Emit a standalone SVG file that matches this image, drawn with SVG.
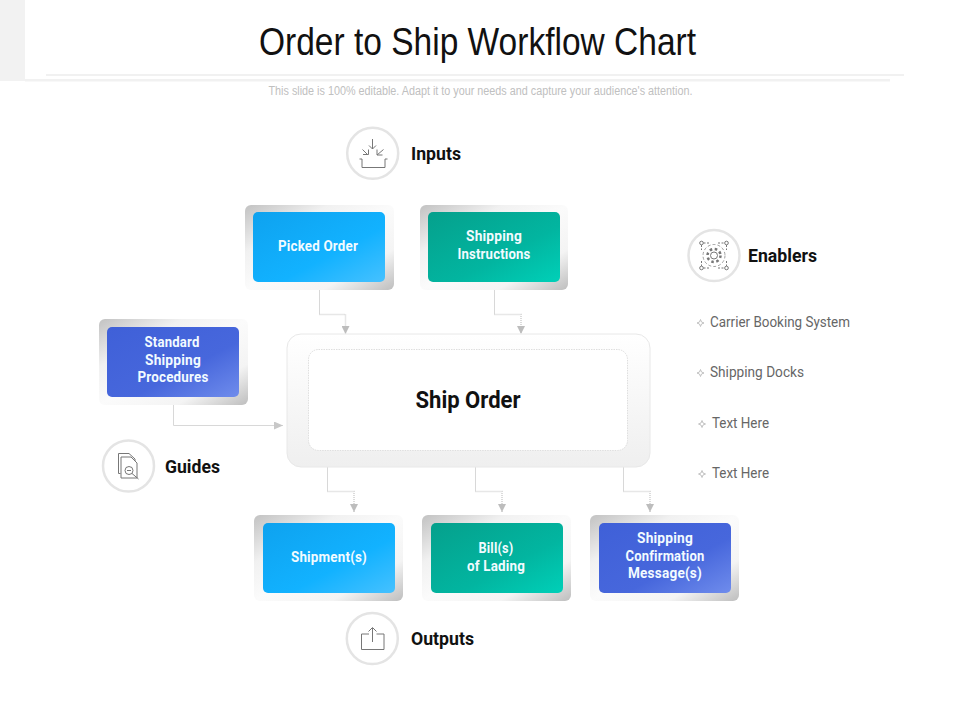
<svg xmlns="http://www.w3.org/2000/svg" width="960" height="720" viewBox="0 0 960 720">
<style>
.t{font-family:"Roboto","Liberation Sans",sans-serif;font-weight:700}
.n{fill:#f2fbff;font-size:14px;text-anchor:middle;letter-spacing:.2px}
.h{fill:#111;font-size:19px}
.b{font-family:"Roboto","Liberation Sans",sans-serif;fill:#666;font-size:14px}
.c{fill:none;stroke:#d8d8d8;stroke-width:1}
.d{fill:none;stroke:#d0d0d0;stroke-width:1.500;stroke-dasharray:1 1}
.i{fill:none;stroke:#777;stroke-width:1}
.ci{fill:#fff;stroke:#e4e4e4;stroke-width:2.500}
</style>
<defs>
<linearGradient id="fr" x1="0" y1="0" x2="1" y2="1"><stop offset="0" stop-color="#c2c2c2"/><stop offset=".28" stop-color="#f1f1f1"/><stop offset=".5" stop-color="#fbfbfb"/><stop offset=".76" stop-color="#f4f4f4"/><stop offset="1" stop-color="#bebebe"/></linearGradient>
<linearGradient id="bl" x1="0" y1="0" x2="1" y2="1"><stop offset="0" stop-color="#0ea2ef"/><stop offset=".6" stop-color="#12b2ff"/><stop offset="1" stop-color="#46c1ff"/></linearGradient>
<linearGradient id="gr" x1="0" y1="0" x2="1" y2="1"><stop offset="0" stop-color="#05a08c"/><stop offset=".6" stop-color="#02b5a0"/><stop offset="1" stop-color="#00d0b8"/></linearGradient>
<linearGradient id="in" x1="0" y1="0" x2="1" y2="1"><stop offset="0" stop-color="#3f60d8"/><stop offset=".6" stop-color="#4767dc"/><stop offset="1" stop-color="#6f8cec"/></linearGradient>
<linearGradient id="mn" x1="0" y1="0" x2="0" y2="1"><stop offset="0" stop-color="#fff"/><stop offset="1" stop-color="#efefef"/></linearGradient>
<marker id="a" viewBox="0 0 8 8" refX="8" refY="4" markerWidth="8" markerHeight="8" orient="auto" markerUnits="userSpaceOnUse"><path d="M0 0L8 4L0 8Z" fill="#bdbdbd"/></marker>
<marker id="ar" viewBox="0 0 9 8" refX="9" refY="4" markerWidth="9" markerHeight="8" orient="auto" markerUnits="userSpaceOnUse"><path d="M0 0L9 4L0 8Z" fill="#c8c8c8"/></marker>
<symbol id="dm" viewBox="0 0 8 8" overflow="visible"><path d="M4 .5L5 3L7.500 4L5 5L4 7.500L3 5L.5 4L3 3Z" fill="none" stroke="#bbb" stroke-width=".9"/></symbol>
</defs>

<g id="header">
<rect x="0" y="0" width="25" height="81" fill="#f2f2f2"/>
<rect x="46" y="74" width="858" height="2" fill="#f1f1f1"/>
<rect x="25" y="79" width="865" height="2.500" fill="#f1f1f1"/>
<text x="477.500" y="55" text-anchor="middle" font-family="'Liberation Sans',sans-serif" font-size="38" fill="#111" textLength="437" lengthAdjust="spacingAndGlyphs">Order to Ship Workflow Chart</text>
<text x="480.500" y="95" text-anchor="middle" font-family="'Liberation Sans',sans-serif" font-size="12" fill="#c0c0c0" textLength="424" lengthAdjust="spacingAndGlyphs">This slide is 100% editable. Adapt it to your needs and capture your audience's attention.</text>
</g>

<g id="connectors">
<path class="c" d="M319.500 290V314.500"/><path class="d" d="M319.500 314.500H345.500V334" marker-end="url(#a)"/>
<path class="c" d="M494.500 290V314.500"/><path class="d" d="M494.500 314.500H521V334" marker-end="url(#a)"/>
<path class="c" d="M173.500 405V425.500H283" marker-end="url(#ar)"/>
<path class="c" d="M327.500 467V491.500"/><path class="d" d="M327.500 491.500H354V512" marker-end="url(#a)"/>
<path class="c" d="M475.500 467V491.500"/><path class="d" d="M475.500 491.500H502V512" marker-end="url(#a)"/>
<path class="c" d="M623.500 467V491.500"/><path class="d" d="M623.500 491.500H650V512" marker-end="url(#a)"/>
</g>

<g id="ship-order">
<rect x="287" y="334" width="363" height="133" rx="14" fill="url(#mn)" stroke="#e8e8e8"/>
<rect x="308.500" y="349.500" width="319" height="101" rx="10" fill="#fff" stroke="#dedede" stroke-dasharray="1.500 1"/>
<text class="t" x="468" y="408" text-anchor="middle" font-size="23" fill="#111" textLength="105" lengthAdjust="spacingAndGlyphs">Ship Order</text>
</g>

<g id="picked-order">
<rect x="245" y="205" width="149" height="85" rx="6" fill="url(#fr)"/>
<rect x="253" y="212" width="132" height="70" rx="5" fill="url(#bl)"/>
<text class="t n" x="318" y="251" textLength="80" lengthAdjust="spacingAndGlyphs">Picked Order</text>
</g>
<g id="shipping-instructions">
<rect x="420" y="205" width="148" height="85" rx="6" fill="url(#fr)"/>
<rect x="428" y="212" width="132" height="70" rx="5" fill="url(#gr)"/>
<text class="t n" x="494" y="241" textLength="56" lengthAdjust="spacingAndGlyphs">Shipping</text>
<text class="t n" x="494" y="259" textLength="73" lengthAdjust="spacingAndGlyphs">Instructions</text>
</g>
<g id="standard-shipping-procedures">
<rect x="99" y="319" width="149" height="86" rx="6" fill="url(#fr)"/>
<rect x="107" y="327" width="132" height="70" rx="5" fill="url(#in)"/>
<text class="t n" x="172" y="347" textLength="55" lengthAdjust="spacingAndGlyphs">Standard</text>
<text class="t n" x="173" y="365" textLength="56" lengthAdjust="spacingAndGlyphs">Shipping</text>
<text class="t n" x="173" y="382" textLength="71" lengthAdjust="spacingAndGlyphs">Procedures</text>
</g>
<g id="shipments">
<rect x="254" y="515" width="149" height="86" rx="6" fill="url(#fr)"/>
<rect x="263" y="523" width="132" height="70" rx="5" fill="url(#bl)"/>
<text class="t n" x="329" y="562" textLength="76" lengthAdjust="spacingAndGlyphs">Shipment(s)</text>
</g>
<g id="bills-of-lading">
<rect x="422" y="515" width="149" height="86" rx="6" fill="url(#fr)"/>
<rect x="431" y="523" width="132" height="70" rx="5" fill="url(#gr)"/>
<text class="t n" x="496" y="553" textLength="35" lengthAdjust="spacingAndGlyphs">Bill(s)</text>
<text class="t n" x="496" y="571" textLength="58" lengthAdjust="spacingAndGlyphs">of Lading</text>
</g>
<g id="shipping-confirmation">
<rect x="590" y="515" width="149" height="86" rx="6" fill="url(#fr)"/>
<rect x="599" y="523" width="132" height="70" rx="5" fill="url(#in)"/>
<text class="t n" x="665" y="543" textLength="56" lengthAdjust="spacingAndGlyphs">Shipping</text>
<text class="t n" x="665" y="561" textLength="79" lengthAdjust="spacingAndGlyphs">Confirmation</text>
<text class="t n" x="665" y="578" textLength="74" lengthAdjust="spacingAndGlyphs">Message(s)</text>
</g>

<g id="inputs">
<circle class="ci" cx="372.700" cy="153.300" r="25.500"/>
<path class="i" d="M359.500 159H362V167.500H385V159H387.500"/>
<path class="i" d="M372.500 139V149M369 145.500L372.500 149L376 145.500M362.500 149.500L368 155M363 154.500H368.500V149.500M383.500 149.500L377 155M377 149.500V155H382.500"/>
<text class="t h" x="411" y="160" textLength="50" lengthAdjust="spacingAndGlyphs">Inputs</text>
</g>

<g id="enablers">
<circle class="ci" cx="714" cy="255.500" r="25.500"/>
<circle class="i" cx="714" cy="255.500" r="3.500"/>
<circle cx="714" cy="255.500" r="6.500" fill="none" stroke="#777" stroke-width="2.500" stroke-dasharray="2.500 2.600"/>
<circle cx="714" cy="255.500" r="11" fill="none" stroke="#888" stroke-width=".8" stroke-dasharray="3 2"/>
<circle class="i" cx="701.500" cy="243" r="1.800"/><circle class="i" cx="726.500" cy="243" r="1.800"/><circle class="i" cx="701.500" cy="268" r="1.800"/><circle class="i" cx="726.500" cy="268" r="1.800"/>
<path class="i" stroke-dasharray="2 1.500" d="M703.500 243H710M718 243H724.500M703.500 268H710M718 268H724.500M701.500 245V250M726.500 245V250M701.500 261V266M726.500 261V266"/>
<text class="t h" x="748" y="262" textLength="69" lengthAdjust="spacingAndGlyphs">Enablers</text>
</g>

<g id="enabler-list">
<use href="#dm" x="696.500" y="319" width="8" height="8"/>
<text class="b" x="710" y="327" textLength="140" lengthAdjust="spacingAndGlyphs">Carrier Booking System</text>
<use href="#dm" x="696.500" y="369" width="8" height="8"/>
<text class="b" x="710" y="377" textLength="94" lengthAdjust="spacingAndGlyphs">Shipping Docks</text>
<use href="#dm" x="698" y="420" width="8" height="8"/>
<text class="b" x="712" y="428" textLength="57" lengthAdjust="spacingAndGlyphs">Text Here</text>
<use href="#dm" x="698" y="470" width="8" height="8"/>
<text class="b" x="712" y="478" textLength="57" lengthAdjust="spacingAndGlyphs">Text Here</text>
</g>

<g id="guides">
<circle class="ci" cx="128.500" cy="466" r="25.500"/>
<path class="i" d="M120.500 473.500H118.500V453.500H129L135 459V461M121 457H131L137 463V478H121Z"/>
<circle class="i" cx="129" cy="470.500" r="4"/><path class="i" d="M127 470.500H131M132 473.500L138.500 479"/>
<text class="t h" x="165" y="473" textLength="55" lengthAdjust="spacingAndGlyphs">Guides</text>
</g>

<g id="outputs">
<circle class="ci" cx="372.300" cy="638.500" r="25.500"/>
<path class="i" d="M369 634H361.500V649.500H384V634H376.500M372.500 628V642M368.500 631.500L372.500 627.500L376.500 631.500"/>
<text class="t h" x="411" y="645" textLength="63" lengthAdjust="spacingAndGlyphs">Outputs</text>
</g>
</svg>
